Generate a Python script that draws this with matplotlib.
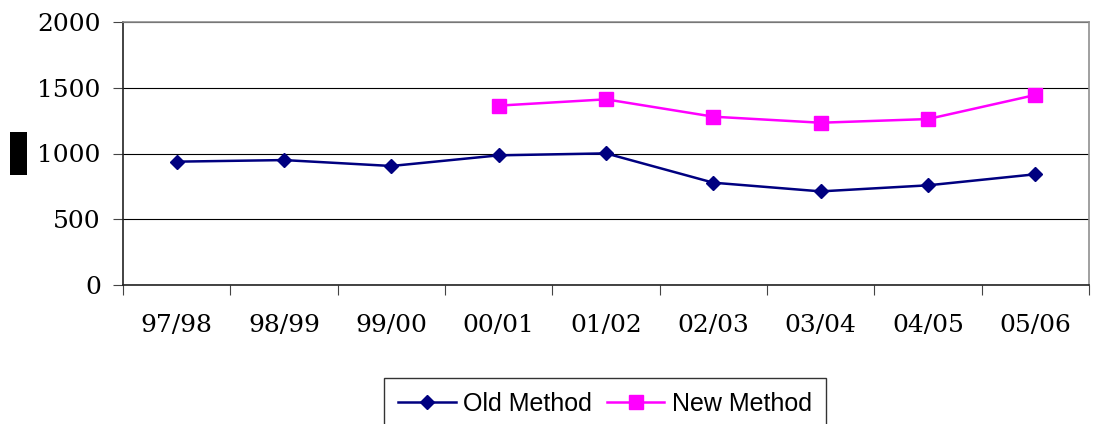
import matplotlib

matplotlib.use("Agg")
import matplotlib.pyplot as plt  # noqa: E402
from matplotlib.patches import Rectangle  # noqa: E402

# Data
years = ["97/98", "98/99", "99/00", "00/01", "01/02", "02/03", "03/04", "04/05", "05/06"]
old_method = [938, 950, 905, 986, 1001, 778, 712, 758, 842]
new_years = ["00/01", "01/02", "02/03", "03/04", "04/05", "05/06"]
new_method = [1364, 1412, 1280, 1234, 1262, 1445]
y_ticks = [0, 500, 1000, 1500, 2000]

fig = plt.figure(figsize=(10.95, 4.24), dpi=100)
ax = fig.add_axes([123 / 1095, 139 / 424, 966 / 1095, 263 / 424])

x_old = list(range(len(years)))
x_new = [years.index(y) for y in new_years]

ax.plot(x_old, old_method, color="#000080", linewidth=1.8, marker="D",
        markersize=7.5, label="Old Method", zorder=3)
ax.plot(x_new, new_method, color="#FF00FF", linewidth=1.8, marker="s",
        markersize=9.5, label="New Method", zorder=3)

ax.set_ylim(0, 2000)
ax.set_xlim(-0.5, len(years) - 0.5)
ax.set_yticks(y_ticks)
ax.yaxis.grid(True, color="black", linewidth=0.8)
ax.set_axisbelow(True)

# Excel-style category axis: ticks between categories, labels at centers
ax.set_xticks([i - 0.5 for i in range(len(years) + 1)])
ax.set_xticklabels([])
ax.set_xticks(x_old, minor=True)
ax.set_xticklabels(years, minor=True, family="DejaVu Serif", fontsize=18)
ax.tick_params(axis="x", which="major", direction="out", length=7, width=0.8, color="#444444")
ax.tick_params(axis="x", which="minor", length=0, pad=21)
ax.tick_params(axis="y", direction="out", length=7, width=0.8, pad=9, color="#444444")
for lbl in ax.get_yticklabels():
    lbl.set_family("DejaVu Serif")
    lbl.set_fontsize(18)

for side in ("top", "right"):
    ax.spines[side].set_color("#909090")
    ax.spines[side].set_linewidth(1.2)
ax.spines["left"].set_color("#222222")
ax.spines["bottom"].set_color("#222222")
ax.spines["left"].set_linewidth(1.2)
ax.spines["bottom"].set_linewidth(1.2)

# redacted axis title block
fig.patches.append(Rectangle((10 / 1095, 1 - 175 / 424), 17 / 1095, 43 / 424,
                             transform=fig.transFigure, facecolor="black",
                             edgecolor="none"))

leg = fig.legend(loc="upper center", bbox_to_anchor=(605 / 1095, 1 - 378 / 424),
                 ncol=2, frameon=True, fancybox=False, shadow=False,
                 prop={"family": "Liberation Sans", "size": 18},
                 handlelength=2.3, columnspacing=0.6, handletextpad=0.3,
                 borderpad=0.55, borderaxespad=0)
leg.get_frame().set_edgecolor("black")
leg.get_frame().set_linewidth(1.0)

fig.savefig("out.png", dpi=100)
plt.close(fig)
